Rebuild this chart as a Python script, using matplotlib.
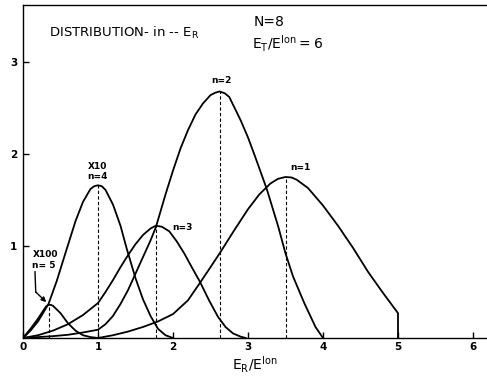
import matplotlib.pyplot as plt

plt.rcParams['font.family'] = ['DejaVu Sans']

# energy distributions for the successive generations (n=4 scaled x10, n=5 x100)
n1_x = [1.0, 1.2, 1.4, 1.6, 1.8, 2.0, 2.2, 2.36, 2.5, 2.63, 2.8, 3.0, 3.15, 3.3,
        3.4, 3.5, 3.58, 3.65, 3.8, 4.0, 4.2, 4.4, 4.6, 4.8, 5.0, 5.0]
n1_y = [0, 0.03, 0.07, 0.12, 0.18, 0.26, 0.41, 0.6, 0.77, 0.93, 1.15, 1.4, 1.56, 1.68,
        1.73, 1.75, 1.745, 1.72, 1.63, 1.44, 1.22, 0.98, 0.72, 0.49, 0.27, 0]

n2_x = [0, 0.2, 0.4, 0.6, 0.8, 1.0, 1.1, 1.2, 1.3, 1.4, 1.5, 1.6, 1.7, 1.77, 1.9,
        2.0, 2.1, 2.2, 2.3, 2.4, 2.5, 2.56, 2.62, 2.69, 2.75, 2.9, 3.0, 3.1, 3.25,
        3.4, 3.5, 3.6, 3.75, 3.9, 4.0]
n2_y = [0, 0.01, 0.02, 0.035, 0.06, 0.09, 0.15, 0.24, 0.37, 0.52, 0.7, 0.88, 1.06,
        1.2, 1.56, 1.82, 2.06, 2.26, 2.43, 2.55, 2.64, 2.665, 2.68, 2.66, 2.62, 2.37,
        2.18, 1.96, 1.62, 1.22, 0.92, 0.67, 0.38, 0.12, 0]

n3_x = [0, 0.2, 0.4, 0.6, 0.8, 1.0, 1.1, 1.2, 1.3, 1.4, 1.5, 1.6, 1.7, 1.77, 1.85,
        1.95, 2.05, 2.15, 2.25, 2.36, 2.48, 2.6, 2.7, 2.8, 2.9, 2.97]
n3_y = [0, 0.03, 0.08, 0.15, 0.25, 0.38, 0.5, 0.63, 0.77, 0.9, 1.02, 1.12, 1.19,
        1.22, 1.21, 1.16, 1.05, 0.92, 0.77, 0.61, 0.41, 0.23, 0.12, 0.05, 0.015, 0]

n4_x = [0, 0.1, 0.2, 0.34, 0.45, 0.58, 0.7, 0.8, 0.9, 0.95, 1.0, 1.05, 1.1, 1.2,
        1.3, 1.38, 1.5, 1.6, 1.7, 1.8, 1.9, 2.0]
n4_y = [0, 0.08, 0.18, 0.37, 0.62, 0.96, 1.27, 1.48, 1.62, 1.65, 1.66, 1.65, 1.61,
        1.45, 1.22, 0.98, 0.65, 0.42, 0.24, 0.1, 0.03, 0]

n5_x = [0, 0.1, 0.2, 0.28, 0.31, 0.34, 0.37, 0.4, 0.5, 0.6, 0.7, 0.8, 0.9, 1.0]
n5_y = [0, 0.1, 0.21, 0.31, 0.345, 0.36, 0.36, 0.35, 0.27, 0.16, 0.08, 0.03, 0.01, 0]

# peak positions (dashed drop lines)
peak_x = [3.5, 2.62, 1.77, 1.0, 0.34]
peak_y = [1.75, 2.68, 1.22, 1.66, 0.36]

x_ticks = [0, 1, 2, 3, 4, 5, 6]
y_ticks = [1, 2, 3]

fig = plt.figure(figsize=(4.87, 3.76), dpi=100)
ax = fig.add_axes([23 / 487, 38 / 376, 1 - 23 / 487, 333 / 376])

for xs, ys in [(n1_x, n1_y), (n2_x, n2_y), (n3_x, n3_y), (n4_x, n4_y), (n5_x, n5_y)]:
    ax.plot(xs, ys, color='black', lw=1.3, solid_joinstyle='round')

ax.vlines(peak_x, 0, peak_y, colors='black', linestyles=(0, (3, 2)), lw=0.8)

ax.set_xlim(0, 464 / 75)
ax.set_ylim(0, 333 / 92)

ax.spines['right'].set_visible(False)
for s in ['left', 'bottom', 'top']:
    ax.spines[s].set_linewidth(1.0)

ax.set_xticks(x_ticks)
ax.set_xticklabels([str(t) for t in x_ticks], fontsize=7.5, fontweight='bold')
ax.set_yticks(y_ticks)
ax.set_yticklabels([str(t) for t in y_ticks], fontsize=7.5, fontweight='bold')
ax.tick_params(direction='in', length=4, width=1, pad=3)
ax.tick_params(axis='y', pad=4)

ax.set_xlabel(r'$\mathregular{E_R / E^{Ion}}$', fontsize=10, labelpad=1)

ax.text(0.35, 3.32, r'DISTRIBUTION- in -- $\mathregular{E_R}$', fontsize=9.5, va='center')
ax.text(3.07, 3.43, 'N=8', fontsize=10, va='center')
ax.text(3.05, 3.2, r'$\mathregular{E_T / E^{Ion} = 6}$', fontsize=10, va='center')

lab = dict(fontsize=6.5, fontweight='bold', ha='center', va='center')
ax.text(2.64, 2.8, 'n=2', **lab)
ax.text(3.7, 1.85, 'n=1', **lab)
ax.text(2.12, 1.2, 'n=3', **lab)
ax.text(1.0, 1.86, 'X10', **lab)
ax.text(1.0, 1.76, 'n=4', **lab)
ax.text(0.3, 0.91, 'X100', **lab)
ax.text(0.27, 0.79, 'n= 5', **lab)

# bent pointer from the n=5 label down to its peak
ax.plot([0.16, 0.17], [0.72, 0.5], color='black', lw=1.0)
ax.annotate('', xy=(0.31, 0.39), xytext=(0.17, 0.5),
            arrowprops=dict(arrowstyle='-|>', color='black', lw=1.0,
                            shrinkA=0, shrinkB=0, mutation_scale=7))

fig.savefig('out.png', dpi=100)
